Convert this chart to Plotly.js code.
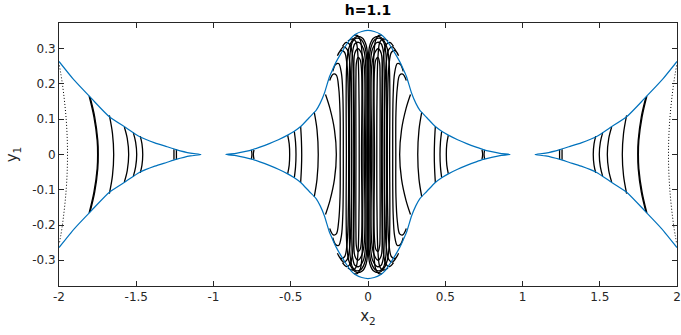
<!DOCTYPE html>
<html>
<head>
<meta charset="utf-8">
<script src="https://cdn.plot.ly/plotly-3.0.1.min.js"></script>
<style>html,body{margin:0;padding:0;background:#fff}#plot{width:681px;height:335px}</style>
</head>
<body>
<div id="plot"></div>
<script>
// boundary of the allowed region, upper half, x2 >= 0
var midBoundX = [0, 0.04, 0.078, 0.11, 0.142, 0.175, 0.207, 0.23, 0.25, 0.283, 0.31, 0.336, 0.38, 0.434, 0.477, 0.52, 0.58, 0.639, 0.7, 0.746, 0.8, 0.854, 0.92];
var midBoundY = [0.352, 0.349, 0.342, 0.33, 0.31, 0.287, 0.262, 0.24, 0.22, 0.173, 0.145, 0.125, 0.105, 0.08, 0.066, 0.055, 0.042, 0.031, 0.021, 0.014, 0.008, 0.003, 0];
var outBoundX = [1.081, 1.15, 1.243, 1.3, 1.38, 1.48, 1.566, 1.674, 1.79, 1.9, 2.0];
var outBoundY = [0, 0.004, 0.014, 0.022, 0.033, 0.051, 0.076, 0.107, 0.159, 0.21, 0.264];

// section curves, upper half, x2 > 0 side (mirrored in x2 and y1 when drawn)
var outerArcX = [
  [1.24, 1.24], [1.256, 1.256],
  [1.474, 1.463, 1.458],
  [1.519, 1.504, 1.497],
  [1.577, 1.558, 1.549],
  [1.674, 1.654, 1.646],
  [1.799, 1.769, 1.749, 1.746],
  [1.805, 1.774, 1.753, 1.75]
];
var outerArcY = [
  [0.015, 0], [0.015, 0],
  [0.052, 0.03, 0],
  [0.062, 0.035, 0],
  [0.078, 0.045, 0],
  [0.111, 0.06, 0],
  [0.163, 0.107, 0.04, 0],
  [0.166, 0.107, 0.04, 0]
];
var dottedArcX = [[1.998, 1.978, 1.953, 1.945]];
var dottedArcY = [[0.253, 0.2, 0.097, 0]];

var midArcX = [
  [0.738, 0.742], [0.755, 0.751],
  [0.52, 0.51, 0.507],
  [0.477, 0.469, 0.466],
  [0.436, 0.431, 0.429],
  [0.348, 0.33, 0.322],
  [0.275, 0.246, 0.217, 0.205]
];
var midArcY = [
  [0.013, 0], [0.013, 0],
  [0.055, 0.03, 0],
  [0.066, 0.035, 0],
  [0.08, 0.04, 0],
  [0.12, 0.07, 0],
  [0.17, 0.13, 0.07, 0]
];

var coreArcX = [
  [0.248, 0.225, 0.205, 0.19, 0.181, 0.18],
  [0.228, 0.21, 0.19, 0.172, 0.163, 0.16, 0.16],
  [0.198, 0.175, 0.152, 0.135, 0.127, 0.125],
  [0.18, 0.158, 0.135, 0.118, 0.109, 0.107],
  [0.165, 0.14, 0.115, 0.098, 0.09, 0.088],
  [0.13, 0.1, 0.078, 0.065, 0.058, 0.057],
  [0.09, 0.07, 0.05, 0.038, 0.034, 0.033],
  [0.003, 0.003, 0.012, 0.035, 0.07, 0.1, 0.125, 0.138, 0.14],
  [0.008, 0.008, 0.02, 0.045, 0.075, 0.1, 0.115, 0.12, 0.12],
  [0.016, 0.016, 0.03, 0.06, 0.085, 0.1, 0.105, 0.105],
  [0.024, 0.024, 0.04, 0.065, 0.085, 0.092, 0.092],
  [0.042, 0.042, 0.052, 0.065, 0.075, 0.078, 0.078]
];
var coreArcY = [
  [0.21, 0.228, 0.225, 0.19, 0.12, 0],
  [0.236, 0.255, 0.258, 0.23, 0.17, 0.08, 0],
  [0.28, 0.295, 0.29, 0.25, 0.15, 0],
  [0.294, 0.305, 0.298, 0.26, 0.15, 0],
  [0.307, 0.318, 0.31, 0.27, 0.15, 0],
  [0.322, 0.328, 0.32, 0.28, 0.15, 0],
  [0.338, 0.338, 0.325, 0.28, 0.15, 0],
  [0, 0.28, 0.31, 0.33, 0.335, 0.325, 0.3, 0.25, 0],
  [0, 0.27, 0.305, 0.326, 0.33, 0.32, 0.29, 0.24, 0],
  [0, 0.26, 0.3, 0.318, 0.314, 0.29, 0.22, 0],
  [0, 0.25, 0.285, 0.3, 0.288, 0.24, 0],
  [0, 0.24, 0.27, 0.275, 0.26, 0.22, 0]
];

var xTicks = [-2, -1.5, -1, -0.5, 0, 0.5, 1, 1.5, 2];
var yTicks = [-0.3, -0.2, -0.1, 0, 0.1, 0.2, 0.3];

// upper half -> full curve (mirror in y1), then both x2 signs, joined by gaps
function curves(xs, ys) {
  var X = [], Y = [];
  [1, -1].forEach(function (s) {
    for (var i = 0; i < xs.length; i++) {
      var ux = xs[i], uy = ys[i];
      for (var j = 0; j < ux.length; j++) { X.push(s * ux[j]); Y.push(uy[j]); }
      for (var k = ux.length - 2; k >= 0; k--) { X.push(s * ux[k]); Y.push(-uy[k]); }
      X.push(null); Y.push(null);
    }
  });
  return {x: X, y: Y};
}

function boundary() {
  var X = [], Y = [], i, n = midBoundX.length;
  // central lobe, closed loop
  for (i = n - 1; i >= 0; i--) { X.push(-midBoundX[i]); Y.push(midBoundY[i]); }
  for (i = 1; i < n; i++) { X.push(midBoundX[i]); Y.push(midBoundY[i]); }
  for (i = n - 2; i >= 0; i--) { X.push(midBoundX[i]); Y.push(-midBoundY[i]); }
  for (i = 1; i < n; i++) { X.push(-midBoundX[i]); Y.push(-midBoundY[i]); }
  X.push(null); Y.push(null);
  // outer lobes
  [1, -1].forEach(function (s) {
    var m = outBoundX.length;
    for (i = m - 1; i >= 0; i--) { X.push(s * outBoundX[i]); Y.push(-outBoundY[i]); }
    for (i = 1; i < m; i++) { X.push(s * outBoundX[i]); Y.push(outBoundY[i]); }
    X.push(null); Y.push(null);
  });
  return {x: X, y: Y};
}

var blk = {color: '#000000', width: 1.3, shape: 'spline', smoothing: 1};
var a = curves(outerArcX, outerArcY);
var b = curves(midArcX, midArcY);
var c = curves(coreArcX, coreArcY);
var d = curves(dottedArcX, dottedArcY);
var bd = boundary();

var data = [
  {x: a.x, y: a.y, mode: 'lines', line: blk},
  {x: b.x, y: b.y, mode: 'lines', line: blk},
  {x: c.x, y: c.y, mode: 'lines', line: blk},
  {x: d.x, y: d.y, mode: 'lines', line: {color: '#000000', width: 1, dash: '1px,2px', shape: 'spline'}},
  {x: bd.x, y: bd.y, mode: 'lines', line: {color: '#0072BD', width: 1.2, shape: 'spline', smoothing: 0.6}}
];

var axisCommon = {
  showgrid: false, zeroline: false, showline: true, mirror: 'ticks',
  linecolor: '#262626', linewidth: 1, ticks: 'inside', ticklen: 5,
  tickcolor: '#262626', tickfont: {family: 'DejaVu Sans', size: 12, color: '#262626'}
};

var layout = {
  width: 681, height: 335,
  margin: {l: 59, r: 4, t: 23, b: 49},
  paper_bgcolor: '#ffffff', plot_bgcolor: '#ffffff',
  showlegend: false,
  title: {text: '<b>h=1.1</b>', x: 0.5, xref: 'paper', y: 0.97, yref: 'container', yanchor: 'middle',
    font: {family: 'DejaVu Sans', size: 14, color: '#000000'}},
  xaxis: Object.assign({}, axisCommon, {
    range: [-2, 2], tickvals: xTicks, ticktext: xTicks.map(String),
    title: {text: 'x<sub>2</sub>', standoff: 7, font: {family: 'DejaVu Sans', size: 15, color: '#262626'}}
  }),
  yaxis: Object.assign({}, axisCommon, {
    range: [-0.373, 0.373], tickvals: yTicks, ticktext: yTicks.map(String),
    title: {text: 'y<sub>1</sub>', standoff: 10, font: {family: 'DejaVu Sans', size: 15, color: '#262626'}}
  })
};

Plotly.newPlot('plot', data, layout, {displayModeBar: false, staticPlot: true});
</script>
</body>
</html>
